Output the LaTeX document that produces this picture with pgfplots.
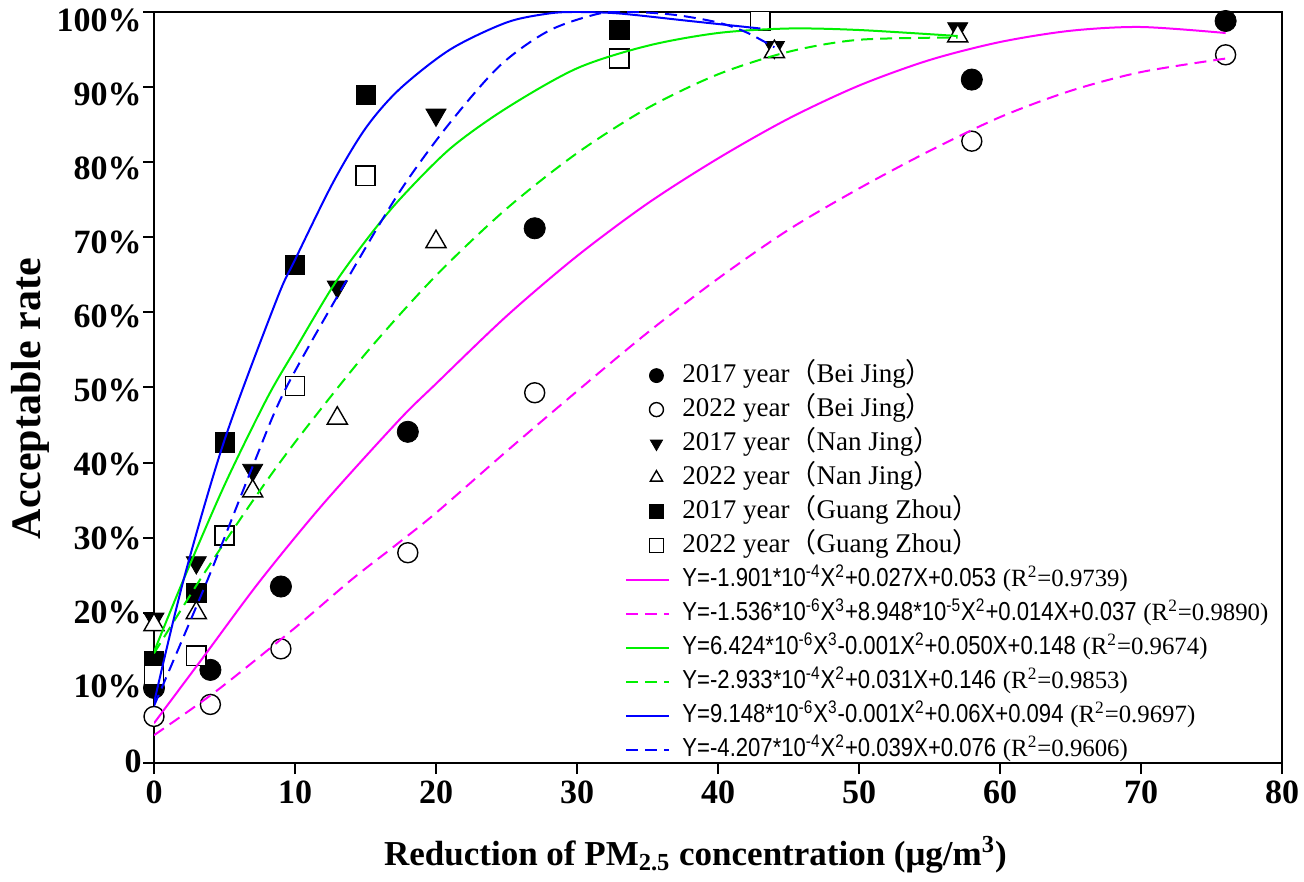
\documentclass[border=0pt]{standalone}
\usepackage{fontspec}
\setmainfont{Liberation Serif}
\newfontfamily\eqf[FakeStretch=0.85]{Liberation Sans}
\newfontfamily\cjk{Noto Sans CJK SC}
\usepackage{pgfplots}
\pgfplotsset{compat=1.18}

\definecolor{fitmag}{RGB}{255,0,255}
\definecolor{fitgreen}{RGB}{0,240,0}
\definecolor{fitblue}{RGB}{0,0,255}

\newcommand{\city}[2]{#1 year{\cjk （}#2{\cjk ）}}
\newcommand{\eqn}[2]{{\eqf\fontsize{13}{15}\selectfont #1} {\fontsize{12.4}{14}\selectfont(R\textsuperscript{2}=#2)}}

\pgfplotsset{
  scat/.style={only marks,
    legend image code/.code={\draw[##1, mark size=3.5pt] plot coordinates {(15pt,0pt)};}},
  fitl/.style={no marks, line width=1pt, smooth,
    legend image code/.code={\draw[##1] (0pt,0pt) -- (21.5pt,0pt);}},
  dsh/.style={dash pattern=on 6pt off 3.5pt},
}

\begin{document}
\begin{tikzpicture}
\begin{axis}[
  scale only axis, width=564pt, height=375.5pt,
  xmin=0, xmax=80, ymin=0, ymax=100,
  xtick={0,10,...,80}, ytick={0,10,...,100},
  yticklabels={0,10\%,20\%,30\%,40\%,50\%,60\%,70\%,80\%,90\%,100\%},
  axis line style={line width=1pt},
  tick align=outside, major tick length=5.5pt,
  tick style={line width=1pt, black},
  xtick pos=bottom, ytick pos=left,
  ticklabel style={font=\bfseries\fontsize{17}{17}\selectfont},
  yticklabel style={inner xsep=0.5pt, yshift={1pt-0.5pt*\ticknum}},
  /pgf/number format/assume math mode=true,
  xlabel={Reduction of PM\textsubscript{2.5} concentration (μg/m\textsuperscript{3})},
  ylabel={Acceptable rate},
  xlabel style={font=\bfseries\fontsize{17.5}{20}\selectfont,
    at={(axis description cs:0.48,-0.1225)}, anchor=center},
  ylabel style={font=\bfseries\fontsize{21}{24}\selectfont,
    at={(axis description cs:-0.11,0.485)}, anchor=center},
  legend style={at={(rel axis cs:0.4176,0.539)}, anchor=north west,
    draw=none, fill=none, inner sep=0pt, row sep=0pt, column sep=5pt,
    nodes={inner sep=1pt, text height=11pt, text depth=4pt},
    font=\fontsize{13.5}{15}\selectfont},
  legend cell align=left,
  clip mode=individual,
]
\coordinate (sw) at (rel axis cs:0,0);
\coordinate (ne) at (rel axis cs:1,1);

% Bei Jing 2017 / 2022
\addplot[scat, mark=*, mark size=5.3pt, mark options={draw=black, fill=black}] coordinates {
  (0,10.0) (4,12.4) (9,23.5) (18,44.1) (27,71.2) (58,91.0) (76,98.8)};
\addlegendentry{\city{2017}{Bei Jing}}
\addplot[scat, mark=*, mark size=5pt, mark options={draw=black, fill=white, line width=0.7pt}] coordinates {
  (0,6.2) (4,7.8) (9,15.2) (18,28.0) (27,49.3) (58,82.8) (76,94.3)};
\addlegendentry{\city{2022}{Bei Jing}}
% Nan Jing 2017 / 2022
\addplot[scat, mark=triangle*, mark size=5.8pt, mark options={draw=black, fill=black, rotate=180}] coordinates {
  (0,19.2) (3,26.7) (7,39.0) (13,63.4) (20,86.3) (44,95.3) (57,97.8)};
\addlegendentry{\city{2017}{Nan Jing}}
\addplot[scat, mark=triangle*, mark size=5.8pt, mark options={draw=black, fill=white, line width=0.7pt}] coordinates {
  (0,18.4) (3,20.0) (7,36.2) (13,45.9) (20,69.4) (44,94.7) (57,96.8)};
\addlegendentry{\city{2022}{Nan Jing}}
% Guang Zhou 2017 / 2022
\addplot[scat, mark=square*, mark size=4.8pt, mark options={draw=black, fill=black}] coordinates {
  (0,13.6) (3,22.7) (5,42.7) (10,66.3) (15,89.0) (33,97.6)};
\addlegendentry{\city{2017}{Guang Zhou}}
\addplot[scat, mark=square*, mark size=4.8pt, mark options={draw=black, fill=white, line width=0.7pt}] coordinates {
  (0,11.7) (3,14.3) (5,30.3) (10,50.2) (15,78.2) (33,93.8) (43,98.8)};
\addlegendentry{\city{2022}{Guang Zhou}}

% fitted curves
\addplot[fitl, fitmag] coordinates {
  (0,5.3) (3.5,14.1) (7.5,24.2) (12,34.5) (17.4,45.7) (20,50.5) (25,59.5)
  (30,67.5) (35,74.5) (40,80.5) (45,85.8) (50,90.2) (55,93.6) (60,96.0)
  (65,97.5) (70,98.0) (76,97.2)};
\addlegendentry{\eqn{Y=-1.901*10\textsuperscript{-4}X\textsuperscript{2}+0.027X+0.053}{0.9739}}
\addplot[fitl, fitmag, dsh] coordinates {
  (0,3.7) (4.5,9.7) (10,18.0) (14,24.4) (17,28.8) (20,33.3) (25,41.5)
  (30,49.5) (35,57.3) (40,64.5) (45,71.0) (50,76.5) (55,81.5) (60,86.0)
  (65,89.5) (70,92.0) (76,93.8)};
\addlegendentry{\eqn{Y=-1.536*10\textsuperscript{-6}X\textsuperscript{3}+8.948*10\textsuperscript{-5}X\textsuperscript{2}+0.014X+0.037}{0.9890}}
\addplot[fitl, fitgreen] coordinates {
  (0,14.8) (2,24.0) (5,37.0) (8,48.5) (10,55.0) (12.7,63.5) (15,69.5)
  (17.4,75.0) (21,81.8) (25,87.2) (30,92.5) (35,95.5) (40,97.2) (45,97.8)
  (50,97.6) (57,96.8)};
\addlegendentry{\eqn{Y=6.424*10\textsuperscript{-6}X\textsuperscript{3}-0.001X\textsuperscript{2}+0.050X+0.148}{0.9674}}
\addplot[fitl, fitgreen, dsh] coordinates {
  (0,14.6) (3.4,24.8) (7,34.9) (10,42.7) (15,54.5) (20,64.9) (25,73.8)
  (30,81.2) (35,87.2) (40,91.7) (45,94.7) (50,96.3) (57,96.6)};
\addlegendentry{\eqn{Y=-2.933*10\textsuperscript{-4}X\textsuperscript{2}+0.031X+0.146}{0.9853}}
\addplot[fitl, fitblue] coordinates {
  (0,8.0) (2.1,24.4) (5,43.0) (8.7,61.7) (10,67.0) (12.7,77.3) (15,84.5)
  (17.4,89.7) (21,95.0) (25,98.6) (28,99.8) (30,100) (33,99.8) (38,98.8)
  (43,97.8)};
\addlegendentry{\eqn{Y=9.148*10\textsuperscript{-6}X\textsuperscript{3}-0.001X\textsuperscript{2}+0.06X+0.094}{0.9697}}
\addplot[fitl, fitblue, dsh] coordinates {
  (0,7.6) (3.8,24.4) (7,39.5) (9.3,49.7) (13.7,64.4) (17.4,76.0) (20.8,84.8)
  (24.5,92.8) (28,97.5) (31.6,99.8) (34,100) (37,99.6) (40,98.6) (42,97.3)
  (44,95.3)};
\addlegendentry{\eqn{Y=-4.207*10\textsuperscript{-4}X\textsuperscript{2}+0.039X+0.076}{0.9606}}
\end{axis}
\pgfresetboundingbox
\path ([shift={(-77pt,-59pt)}]sw) rectangle ([shift={(11pt,6pt)}]ne);
\end{tikzpicture}
\end{document}
